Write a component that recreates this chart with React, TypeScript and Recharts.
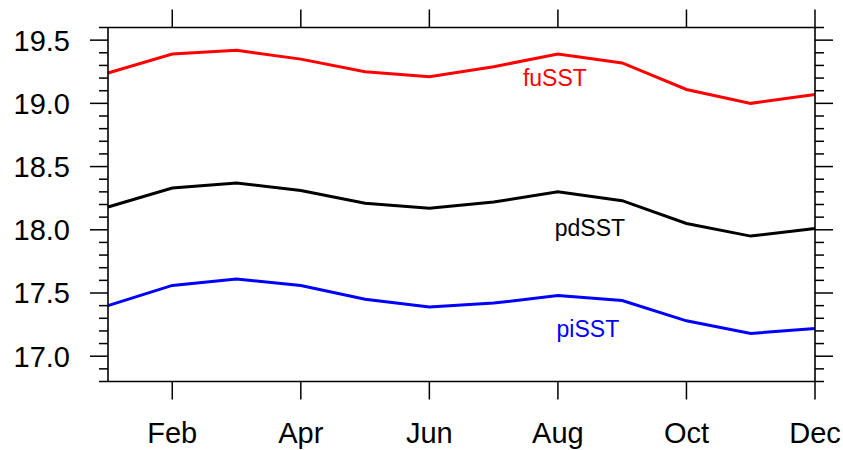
import { LineChart, Line, XAxis, YAxis, ReferenceDot } from 'recharts';

// monthly mean SST for three climate scenarios
const months = ['Jan', 'Feb', 'Mar', 'Apr', 'May', 'Jun', 'Jul', 'Aug', 'Sep', 'Oct', 'Nov', 'Dec'];
const fuSST = [19.24, 19.39, 19.42, 19.35, 19.25, 19.21, 19.29, 19.39, 19.32, 19.11, 19.0, 19.07];
const pdSST = [18.18, 18.33, 18.37, 18.31, 18.21, 18.17, 18.22, 18.3, 18.23, 18.05, 17.95, 18.01];
const piSST = [17.4, 17.56, 17.61, 17.56, 17.45, 17.39, 17.42, 17.48, 17.44, 17.28, 17.18, 17.22];

const majorTicks = [17.0, 17.5, 18.0, 18.5, 19.0, 19.5];
const yTicks = [
  16.8, 16.9, 17.0, 17.1, 17.2, 17.3, 17.4, 17.5, 17.6, 17.7, 17.8, 17.9, 18.0, 18.1, 18.2,
  18.3, 18.4, 18.5, 18.6, 18.7, 18.8, 18.9, 19.0, 19.1, 19.2, 19.3, 19.4, 19.5, 19.6,
];

// name, colour, anchor month, anchor value and horizontal shift for the in-plot labels
const seriesLabels = [
  { name: 'fuSST', color: '#ff0000', month: 'Aug', value: 19.138, dx: -3 },
  { name: 'pdSST', color: '#000000', month: 'Aug', value: 17.952, dx: 32 },
  { name: 'piSST', color: '#0000ff', month: 'Aug', value: 17.155, dx: 30 },
];

const data = months.map((m, i) => ({ month: m, fu: fuSST[i], pd: pdSST[i], pi: piSST[i] }));

const FONT = '"Liberation Sans", Arial, Helvetica, sans-serif';

const isMajor = (v: number) => majorTicks.some((m) => Math.abs(m - v) < 1e-6);

const YTick = (props: any) => {
  const { x, y, payload, side } = props;
  const major = isMajor(payload.value);
  const dir = side === 'left' ? -1 : 1;
  const len = major ? 18 : 9;
  return (
    <g>
      <line x1={x} y1={y} x2={x + dir * len} y2={y} stroke="#000" strokeWidth={1.5} />
      {side === 'left' && major && (
        <text x={x - 38} y={y + 10.4} textAnchor="end" fontSize={29} fontFamily={FONT} fill="#000">
          {payload.value.toFixed(1)}
        </text>
      )}
    </g>
  );
};

const XTick = (props: any) => {
  const { x, y, index, payload, side } = props;
  if (index % 2 === 0) return null;
  const dir = side === 'top' ? -1 : 1;
  return (
    <g>
      <line x1={x} y1={y} x2={x} y2={y + dir * 18} stroke="#000" strokeWidth={1.5} />
      {side === 'bottom' && (
        <text x={x} y={y + 61.5} textAnchor="middle" fontSize={29} fontFamily={FONT} fill="#000">
          {payload.value}
        </text>
      )}
    </g>
  );
};

const SeriesLabel = (props: any) => {
  const { viewBox, text, color, dx } = props;
  const cx = viewBox.x + viewBox.width / 2;
  const cy = viewBox.y + viewBox.height / 2;
  return (
    <text x={cx + dx} y={cy} textAnchor="middle" fontSize={23} fontFamily={FONT} fill={color}>
      {text}
    </text>
  );
};

const axisLine = { stroke: '#000', strokeWidth: 1.6 };

export default function App() {
  return (
    <div style={{ position: 'absolute', left: 0, top: 0, background: '#fff' }}>
      <LineChart width={843} height={450} data={data} margin={{ top: 0, right: 0, bottom: 0, left: 0 }}>
        <XAxis
          xAxisId="top"
          orientation="top"
          dataKey="month"
          height={27.5}
          interval={0}
          tickSize={0}
          tickMargin={0}
          tickLine={false}
          axisLine={axisLine}
          tick={<XTick side="top" />}
        />
        <XAxis
          xAxisId="bottom"
          orientation="bottom"
          dataKey="month"
          height={68.5}
          interval={0}
          tickSize={0}
          tickMargin={0}
          tickLine={false}
          axisLine={axisLine}
          tick={<XTick side="bottom" />}
        />
        <YAxis
          yAxisId="left"
          orientation="left"
          width={108}
          domain={[16.8, 19.6]}
          ticks={yTicks}
          interval={0}
          allowDataOverflow
          tickSize={0}
          tickMargin={0}
          tickLine={false}
          axisLine={axisLine}
          tick={<YTick side="left" />}
        />
        <YAxis
          yAxisId="right"
          orientation="right"
          width={28}
          domain={[16.8, 19.6]}
          ticks={yTicks}
          interval={0}
          allowDataOverflow
          tickSize={0}
          tickMargin={0}
          tickLine={false}
          axisLine={axisLine}
          tick={<YTick side="right" />}
        />
        <Line xAxisId="bottom" yAxisId="left" type="linear" dataKey="fu" stroke="#ff0000" strokeWidth={3} dot={false} isAnimationActive={false} />
        <Line xAxisId="bottom" yAxisId="left" type="linear" dataKey="pd" stroke="#000000" strokeWidth={3} dot={false} isAnimationActive={false} />
        <Line xAxisId="bottom" yAxisId="left" type="linear" dataKey="pi" stroke="#0000ff" strokeWidth={3} dot={false} isAnimationActive={false} />
        {seriesLabels.map((s) => (
          <ReferenceDot
            key={s.name}
            xAxisId="bottom"
            yAxisId="left"
            x={s.month}
            y={s.value}
            r={1}
            fill="none"
            stroke="none"
            label={(p: any) => <SeriesLabel {...p} text={s.name} color={s.color} dx={s.dx} />}
          />
        ))}
      </LineChart>
    </div>
  );
}
